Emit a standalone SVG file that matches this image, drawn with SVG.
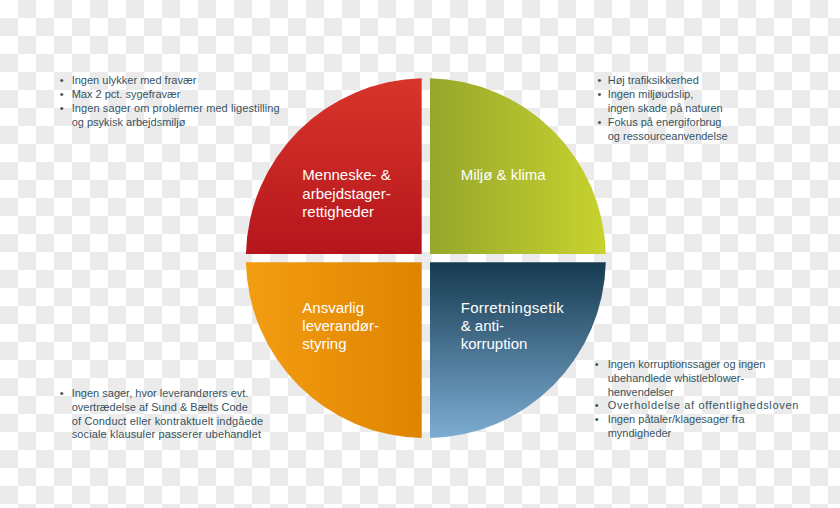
<svg xmlns="http://www.w3.org/2000/svg" width="840" height="508" viewBox="0 0 840 508">
  <defs>
    <pattern id="checker" width="36" height="36" patternUnits="userSpaceOnUse">
      <rect width="36" height="36" fill="#ffffff"/>
      <rect x="18" y="0" width="18" height="18" fill="#ebebeb"/>
      <rect x="0" y="18" width="18" height="18" fill="#ebebeb"/>
    </pattern>
    <linearGradient id="gRed" x1="0" y1="0" x2="0" y2="1">
      <stop offset="0" stop-color="#d8352a"/>
      <stop offset="1" stop-color="#b5161c"/>
    </linearGradient>
    <linearGradient id="gGreen" x1="0" y1="0" x2="1" y2="0">
      <stop offset="0" stop-color="#96a72b"/>
      <stop offset="1" stop-color="#c8d32f"/>
    </linearGradient>
    <linearGradient id="gOrange" x1="0" y1="0" x2="1" y2="0">
      <stop offset="0" stop-color="#f39d12"/>
      <stop offset="1" stop-color="#df8400"/>
    </linearGradient>
    <linearGradient id="gBlue" x1="0" y1="0" x2="0" y2="1">
      <stop offset="0" stop-color="#163a50"/>
      <stop offset="1" stop-color="#7dadd3"/>
    </linearGradient>
  </defs>
  <style>
    .lbl { font-family: "Liberation Sans", Arial, sans-serif; font-size: 15px; fill: #ffffff; }
    .txt { font-family: "Liberation Sans", Arial, sans-serif; font-size: 11px; fill: #36535f; }
  </style>

  <rect width="840" height="508" fill="url(#checker)"/>

  <g id="menneske">
    <path d="M421.7,254 L245.9,254 A180,180 0 0 1 421.7,78.2 Z" fill="url(#gRed)"/>
    <text class="lbl" x="302.3" y="180.3">Menneske- &amp;</text>
    <text class="lbl" x="302.3" y="198.5">arbejdstager-</text>
    <text class="lbl" x="302.3" y="216.7">rettigheder</text>
  </g>

  <g id="miljoe">
    <path d="M430,254 L430,78.2 A180,180 0 0 1 605.8,254 Z" fill="url(#gGreen)"/>
    <text class="lbl" x="460.7" y="180.3">Miljø &amp; klima</text>
  </g>

  <g id="ansvarlig">
    <path d="M421.7,262.3 L421.7,438.1 A180,180 0 0 1 245.9,262.3 Z" fill="url(#gOrange)"/>
    <text class="lbl" x="302.3" y="313.3">Ansvarlig</text>
    <text class="lbl" x="302.3" y="331.3">leverandør-</text>
    <text class="lbl" x="302.3" y="349.3">styring</text>
  </g>

  <g id="forretningsetik">
    <path d="M430,262.3 L605.8,262.3 A180,180 0 0 1 430,438.1 Z" fill="url(#gBlue)"/>
    <text class="lbl" x="460.7" y="313.3" textLength="103" lengthAdjust="spacing">Forretningsetik</text>
    <text class="lbl" x="460.7" y="331.3">&amp; anti-</text>
    <text class="lbl" x="460.7" y="349.3">korruption</text>
  </g>

  <g id="list-menneske">
    <text class="txt" x="59.8" y="84.3">•</text>
    <text class="txt" x="71.7" y="84.3">Ingen ulykker med fravær</text>
    <text class="txt" x="59.8" y="98.2">•</text>
    <text class="txt" x="71.7" y="98.2">Max 2 pct. sygefravær</text>
    <text class="txt" x="59.8" y="112.1">•</text>
    <text class="txt" x="71.7" y="112.1" textLength="208" lengthAdjust="spacing">Ingen sager om problemer med ligestilling</text>
    <text class="txt" x="71.7" y="126">og psykisk arbejdsmiljø</text>
  </g>

  <g id="list-miljoe">
    <text class="txt" x="597.4" y="84.3">•</text>
    <text class="txt" x="607.7" y="84.3">Høj trafiksikkerhed</text>
    <text class="txt" x="597.4" y="98.2">•</text>
    <text class="txt" x="607.7" y="98.2">Ingen miljøudslip,</text>
    <text class="txt" x="607.7" y="112.1">ingen skade på naturen</text>
    <text class="txt" x="597.4" y="126">•</text>
    <text class="txt" x="607.7" y="126">Fokus på energiforbrug</text>
    <text class="txt" x="607.7" y="139.9">og ressourceanvendelse</text>
  </g>

  <g id="list-ansvarlig">
    <text class="txt" x="59.8" y="396.7">•</text>
    <text class="txt" x="71.7" y="396.7">Ingen sager, hvor leverandørers evt.</text>
    <text class="txt" x="71.7" y="410.6">overtrædelse af Sund &amp; Bælts Code</text>
    <text class="txt" x="71.7" y="424.5" textLength="191.5" lengthAdjust="spacing">of Conduct eller kontraktuelt indgåede</text>
    <text class="txt" x="71.7" y="438.4" textLength="189.3" lengthAdjust="spacing">sociale klausuler passerer ubehandlet</text>
  </g>

  <g id="list-forretningsetik">
    <text class="txt" x="594.8" y="367.7">•</text>
    <text class="txt" x="607.7" y="367.7">Ingen korruptionssager og ingen</text>
    <text class="txt" x="607.7" y="381.6">ubehandlede whistleblower-</text>
    <text class="txt" x="607.7" y="395.5">henvendelser</text>
    <text class="txt" x="594.8" y="409.4">•</text>
    <text class="txt" x="607.7" y="409.4" textLength="190.6" lengthAdjust="spacing">Overholdelse af offentlighedsloven</text>
    <text class="txt" x="594.8" y="423.3">•</text>
    <text class="txt" x="607.7" y="423.3">Ingen påtaler/klagesager fra</text>
    <text class="txt" x="607.7" y="437.2">myndigheder</text>
  </g>
</svg>
